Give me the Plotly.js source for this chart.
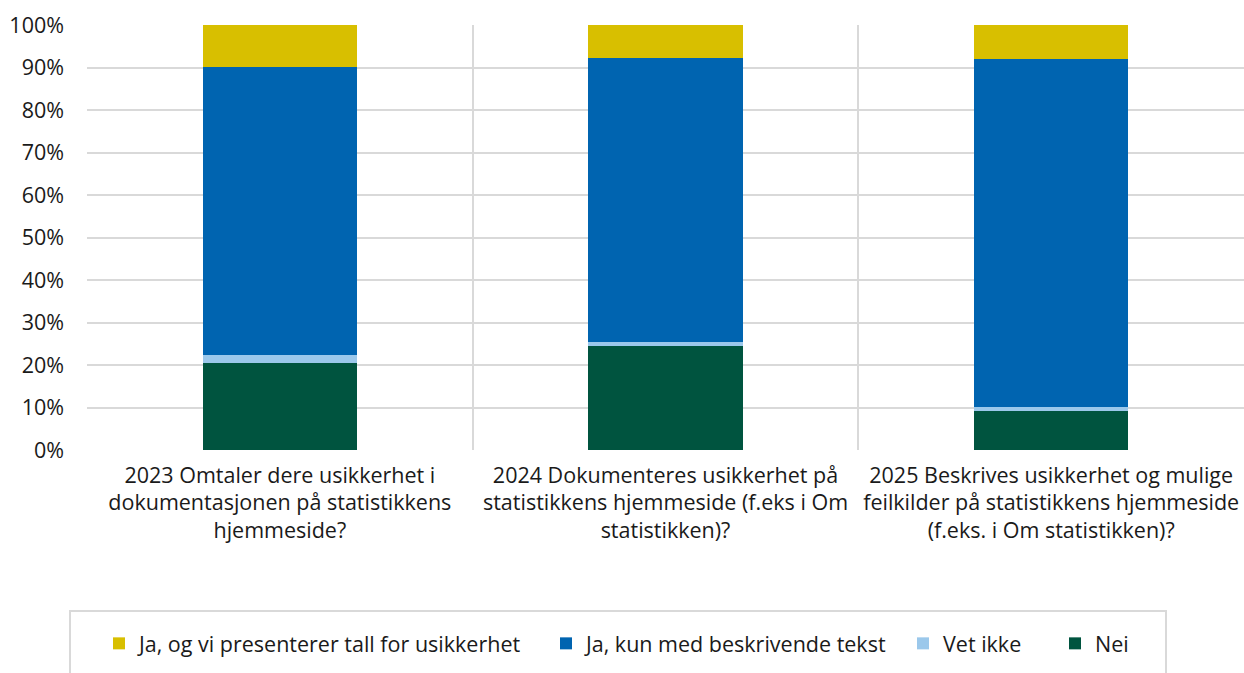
<!DOCTYPE html>
<html>
<head>
<meta charset="utf-8">
<script src="https://cdn.plot.ly/plotly-3.0.1.min.js"></script>
<style>html,body{margin:0;padding:0;background:#fff;}#chart{width:1244px;height:673px;}</style>
</head>
<body>
<div id="chart"></div>
<script>
const categories = [
  "2023 Omtaler dere usikkerhet i<br>dokumentasjonen på statistikkens<br>hjemmeside?",
  "2024 Dokumenteres usikkerhet på<br>statistikkens hjemmeside (f.eks i Om<br>statistikken)?",
  "2025 Beskrives usikkerhet og mulige<br>feilkilder på statistikkens hjemmeside<br>(f.eks. i Om statistikken)?"
];
const nei = [20.5, 24.4, 9.2];
const vetIkke = [1.9, 1.0, 0.9];
const kunTekst = [67.7, 66.9, 81.9];
const tallUsikkerhet = [9.9, 7.7, 8.0];
const yTicks = [0, 10, 20, 30, 40, 50, 60, 70, 80, 90, 100];
const yTickLabels = yTicks.map(v => v + "%");

const font = "'Open Sans', 'Noto Sans', sans-serif";
const fs = 21.5;
const txt = "#1a1a1a";

function tr(name, y, color, legend) {
  return {type: "bar", name: name, x: categories, y: y, width: 0.4,
    marker: {color: color, line: {width: 0}}, legend: legend, hoverinfo: "name+y"};
}
const data = [
  tr("Nei", nei, "#00543f", "legend4"),
  tr("Vet ikke", vetIkke, "#9bc8eb", "legend3"),
  tr("Ja, kun med beskrivende tekst", kunTekst, "#0064b0", "legend2"),
  tr("Ja, og vi presenterer tall for usikkerhet", tallUsikkerhet, "#d8bf00", "legend")
];
const W = 1157, L = 87;
function lx(px){ return (px - L) / W; }
const legBase = {orientation: "h", yanchor: "middle", y: -0.455, xanchor: "left",
  font: {family: font, size: fs, color: txt}, bgcolor: "rgba(0,0,0,0)", borderwidth: 0,
  itemclick: false, itemdoubleclick: false};
const layout = {
  width: 1244, height: 673,
  margin: {l: L, r: 0, t: 25, b: 223},
  paper_bgcolor: "#fff", plot_bgcolor: "#fff",
  barmode: "stack",
  font: {family: font, size: fs, color: txt},
  showlegend: true,
  legend: Object.assign({}, legBase, {x: lx(99)}),
  legend2: Object.assign({}, legBase, {x: lx(546)}),
  legend3: Object.assign({}, legBase, {x: lx(903)}),
  legend4: Object.assign({}, legBase, {x: lx(1055)}),
  xaxis: {type: "category", tickson: "boundaries", showgrid: true, gridcolor: "#d9d9d9", gridwidth: 2,
    ticks: "", showline: false, zeroline: false, ticklabelstandoff: 10,
    tickfont: {family: font, size: fs, color: txt}},
  yaxis: {range: [0, 100], tickvals: yTicks, ticktext: yTickLabels, showgrid: true, gridcolor: "#d9d9d9",
    gridwidth: 2, zeroline: false, showline: false, ticks: "", ticklabelstandoff: 22,
    tickfont: {family: font, size: fs, color: txt}},
  shapes: [{type: "rect", xref: "paper", yref: "paper", x0: lx(70), x1: lx(1166),
    y0: (450 - 611) / 425, y1: (450 - 690) / 425, line: {color: "#d9d9d9", width: 2}, fillcolor: "rgba(0,0,0,0)", layer: "below"}]
};
Plotly.newPlot("chart", data, layout, {displayModeBar: false, staticPlot: true});
</script>
</body>
</html>
